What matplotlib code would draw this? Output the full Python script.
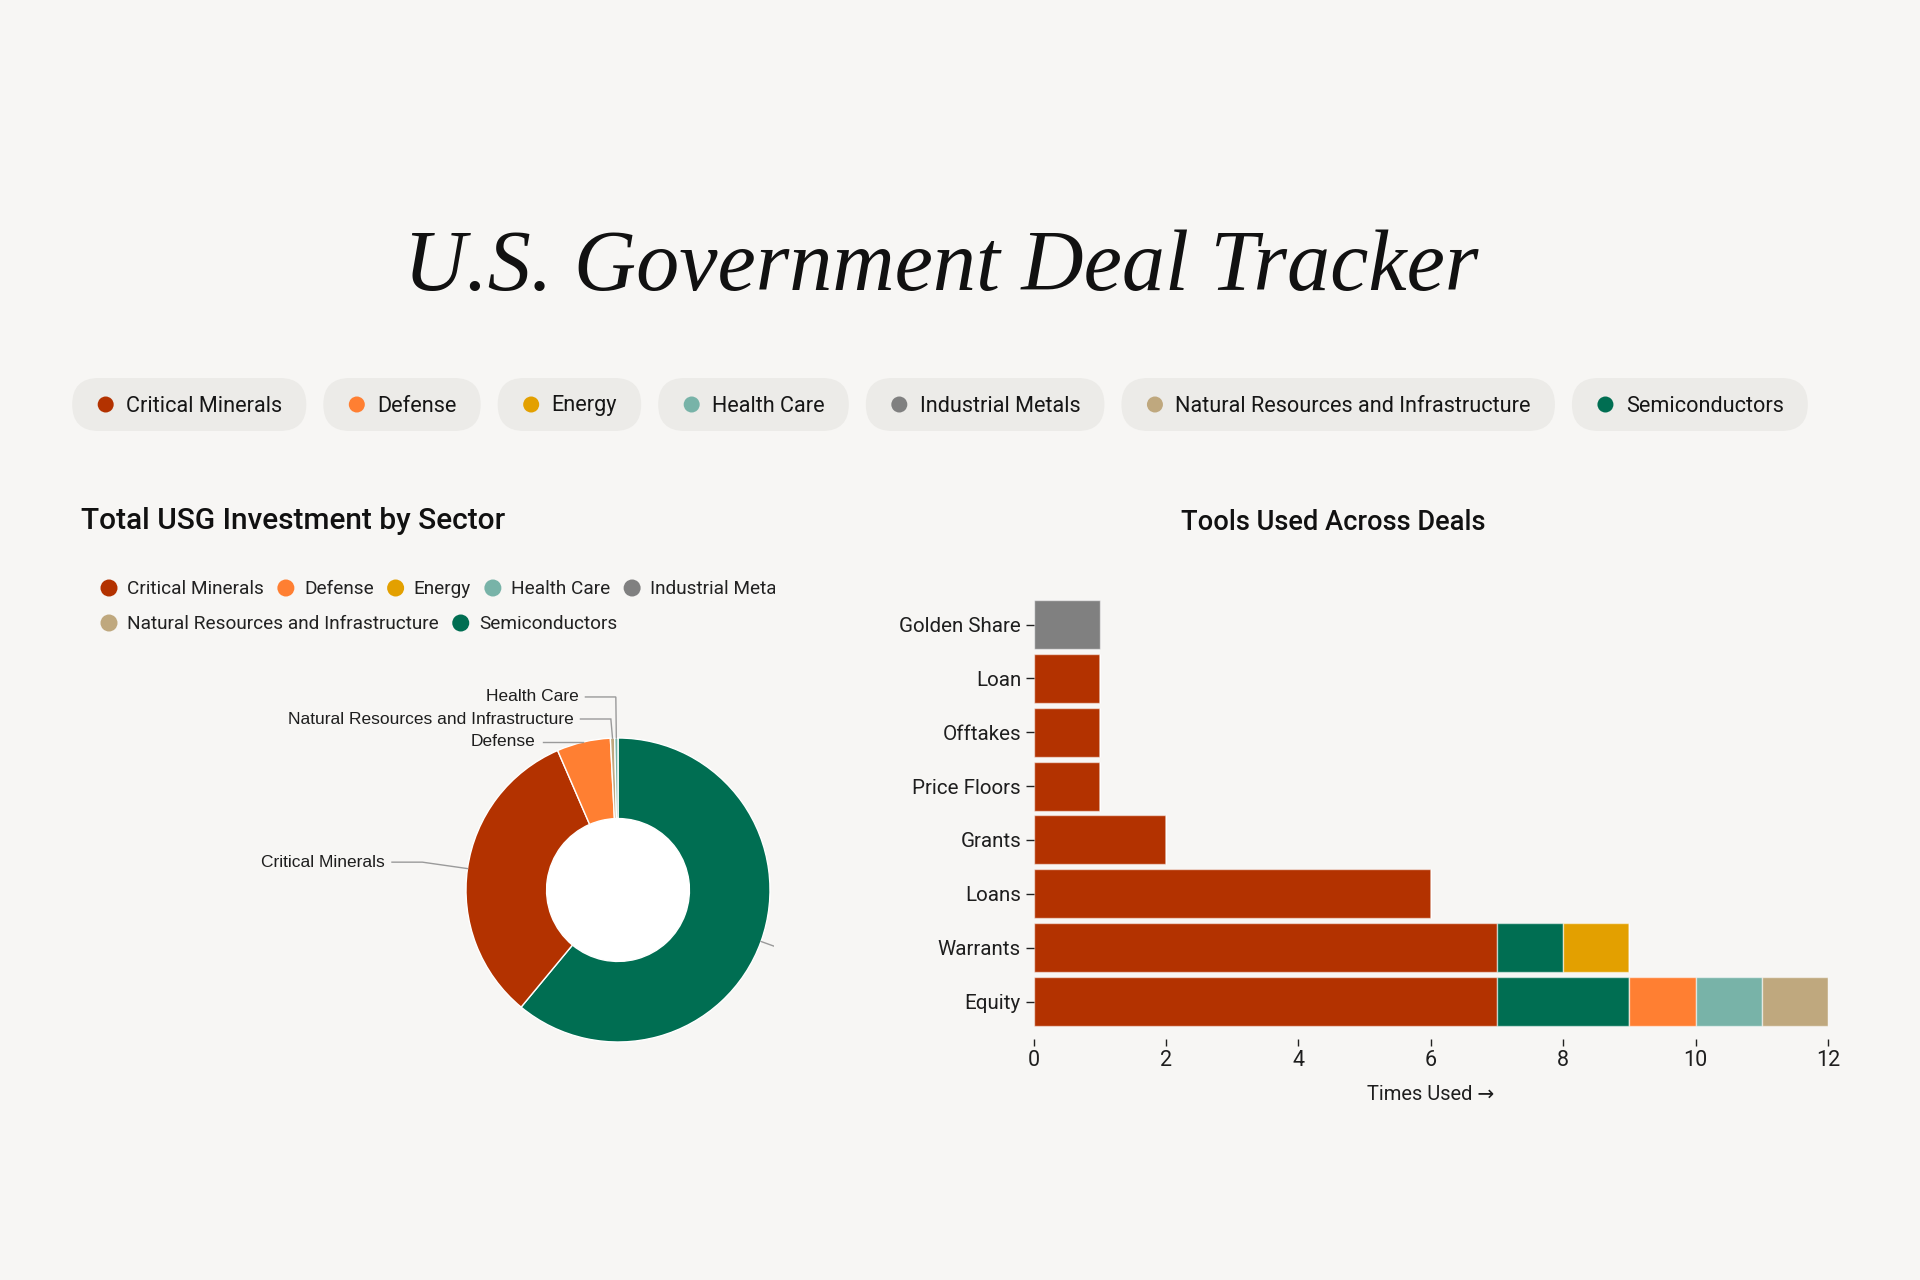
import matplotlib
matplotlib.use('Agg')
import matplotlib.pyplot as plt
from matplotlib.patches import FancyBboxPatch, Circle
import numpy as np

# ---------------- data ----------------
sectors = ['Critical Minerals', 'Defense', 'Energy', 'Health Care', 'Industrial Metals',
           'Natural Resources and Infrastructure', 'Semiconductors']
sector_colors = ['#b33200', '#ff7f32', '#e3a000', '#78b3a8', '#808080', '#bfa87e', '#006e52']

# share of total USG investment (%), in drawing order (largest first)
pie_sectors = ['Semiconductors', 'Critical Minerals', 'Defense',
               'Natural Resources and Infrastructure', 'Health Care']
pie_values = [61.0, 32.5, 5.7, 0.45, 0.35]

tools = ['Golden Share', 'Loan', 'Offtakes', 'Price Floors', 'Grants', 'Loans', 'Warrants', 'Equity']
critical_minerals_counts = [0, 1, 1, 1, 2, 6, 7, 7]
semiconductors_counts    = [0, 0, 0, 0, 0, 0, 1, 2]
energy_counts            = [0, 0, 0, 0, 0, 0, 1, 0]
defense_counts           = [0, 0, 0, 0, 0, 0, 0, 1]
health_care_counts       = [0, 0, 0, 0, 0, 0, 0, 1]
natural_resources_counts = [0, 0, 0, 0, 0, 0, 0, 1]
industrial_metals_counts = [1, 0, 0, 0, 0, 0, 0, 0]
x_ticks = [0, 2, 4, 6, 8, 10, 12]

stack = [('Critical Minerals', critical_minerals_counts),
         ('Semiconductors', semiconductors_counts),
         ('Energy', energy_counts),
         ('Defense', defense_counts),
         ('Health Care', health_care_counts),
         ('Natural Resources and Infrastructure', natural_resources_counts),
         ('Industrial Metals', industrial_metals_counts)]

color_of = dict(zip(sectors, sector_colors))

# ---------------- style ----------------
W, H = 1920, 1280
BG = '#f7f6f4'
PILL = '#ecebe8'
TXT = '#161616'
UI = ['Roboto', 'DejaVu Sans']
plt.rcParams['font.family'] = UI

fig = plt.figure(figsize=(19.2, 12.8), dpi=100, facecolor=BG)
renderer = fig.canvas.get_renderer()


def frect(x0, y0, x1, y1):
    return [x0 / W, 1 - y1 / H, (x1 - x0) / W, (y1 - y0) / H]


def width_of(t):
    return t.get_window_extent(renderer).width


ax_bg = fig.add_axes([0, 0, 1, 1])
ax_bg.set_xlim(0, W)
ax_bg.set_ylim(H, 0)
ax_bg.axis('off')

# ---------------- title ----------------
title = ax_bg.text(941, 290, 'U.S. Government Deal Tracker', family=['Liberation Serif', 'DejaVu Serif'],
                   style='italic', fontsize=70, ha='center', va='baseline', color='#111111')
title.set_fontsize(70 * 1074 / width_of(title))

# ---------------- pills legend ----------------
pill_texts = []
for s in sectors:
    t = ax_bg.text(0, 403.5, s, fontsize=15.6, va='center_baseline', ha='left', color=TXT)
    pill_texts.append(t)
pill_w = [width_of(t) + 78 for t in pill_texts]
gap = 17
x = 940 - (sum(pill_w) + gap * (len(sectors) - 1)) / 2
for s, t, w in zip(sectors, pill_texts, pill_w):
    ax_bg.add_patch(FancyBboxPatch((x, 378), w, 53, boxstyle='round,pad=0,rounding_size=26.5',
                                   fc=PILL, ec='none', zorder=1))
    ax_bg.add_patch(Circle((x + 33.5, 404.5), 8, fc=color_of[s], ec='none', zorder=2))
    t.set_x(x + 54)
    t.set_zorder(3)
    x += w + gap

# ---------------- left panel ----------------
ax_l = fig.add_axes(frect(0, 440, 775, 1280))
ax_l.set_xlim(0, 775)
ax_l.set_ylim(1280, 440)
ax_l.axis('off')
ax_l.patch.set_visible(False)
ax_l.text(81, 521, 'Total USG Investment by Sector', fontsize=21.5, fontweight='medium',
          va='center', ha='left', color='#111111')

legend_rows = [sectors[:5], sectors[5:]]
for row_y, row in zip([588, 623], legend_rows):
    x = 109
    for s in row:
        ax_l.add_patch(Circle((x, row_y), 8.5, fc=color_of[s], ec='none', clip_on=True))
        t = ax_l.text(x + 18, row_y - 0.5, s, fontsize=13.7, va='center_baseline', ha='left',
                      color='#222222', clip_on=True)
        x = x + 18 + width_of(t) + 22

# donut
cx, cy, R = 618, 890, 152
px0, py0, px1, py1 = 100, 660, 774, 1060
ax_p = fig.add_axes(frect(px0, py0, px1, py1))
ax_p.patch.set_visible(False)
wedges, _ = ax_p.pie(pie_values, colors=[color_of[s] for s in pie_sectors], startangle=90,
                     counterclock=False, radius=1.0,
                     wedgeprops=dict(width=0.53, edgecolor='white', linewidth=1.0))
ax_p.add_patch(Circle((0, 0), 0.47, fc='white', ec='none', zorder=0))
ax_p.set_aspect('auto')
ax_p.set_xlim((px0 - cx) / R, (px1 - cx) / R)
ax_p.set_ylim((cy - py1) / R, (cy - py0) / R)
ax_p.axis('off')

# leader lines + labels (label y positions: layout for de-overlap)
label_y = {'Critical Minerals': None, 'Defense': 0.974,
           'Natural Resources and Infrastructure': 1.125, 'Health Care': 1.27,
           'Semiconductors': None}
total = sum(pie_values)
cum = 0.0
for s, v in zip(pie_sectors, pie_values):
    mid = np.deg2rad((cum + v / 2) / total * 360)
    cum += v
    ax_x, ax_y = np.sin(mid), np.cos(mid)
    kx = 1.3 * np.sin(mid)
    ky = label_y[s] if label_y[s] is not None else 1.3 * np.cos(mid)
    if s == 'Defense':
        ax_y = ky
    if kx < 0:
        ex = kx - 0.2
        ax_p.plot([ax_x, kx, ex], [ax_y, ky, ky], color='#9a9a9a', lw=1.0, clip_on=True,
                  solid_joinstyle='miter')
        ax_p.text(kx - 0.245, ky, s, family=['Liberation Sans', 'DejaVu Sans'], fontsize=12.5,
                  ha='right', va='center', color='#1e1e1e')
    else:
        ax_p.plot([ax_x, kx, kx + 0.2], [ax_y, ky, ky], color='#9a9a9a', lw=1.0, clip_on=True)

# ---------------- right panel: bar chart ----------------
ax_bg.text(1333, 523, 'Tools Used Across Deals', fontsize=19.6, fontweight='medium',
           va='center', ha='center', color='#111111')

ax_b = fig.add_axes(frect(1033.5, 597.6, 1828, 1028.5))
ax_b.patch.set_visible(False)
ypos = np.arange(len(tools))
left = np.zeros(len(tools))
for s, vals in stack:
    vals = np.array(vals, dtype=float)
    ax_b.barh(ypos, vals, left=left, height=0.91, color=color_of[s],
              edgecolor=(1, 1, 1, 0.55), linewidth=1.0)
    left += vals
ax_b.set_xlim(0, 12)
ax_b.set_ylim(len(tools) - 0.5, -0.5)
ax_b.set_yticks(ypos)
ax_b.set_yticklabels(tools)
ax_b.set_xticks(x_ticks)
for sp in ['top', 'right', 'left']:
    ax_b.spines[sp].set_visible(False)
ax_b.spines['bottom'].set_position(('outward', 7.2))
ax_b.spines['bottom'].set_visible(False)
ax_b.tick_params(axis='y', length=5.5, width=1, color='#222222', pad=3.5, labelsize=14.8,
                 labelcolor='#1e1e1e')
ax_b.tick_params(axis='x', length=5, width=1, color='#222222', pad=3, labelsize=15.5,
                 labelcolor='#1e1e1e')
ax_b.set_xlabel('Times Used \u2192', fontsize=14.5, color='#1e1e1e', labelpad=10)

fig.savefig('out.png', dpi=100, facecolor=BG)
